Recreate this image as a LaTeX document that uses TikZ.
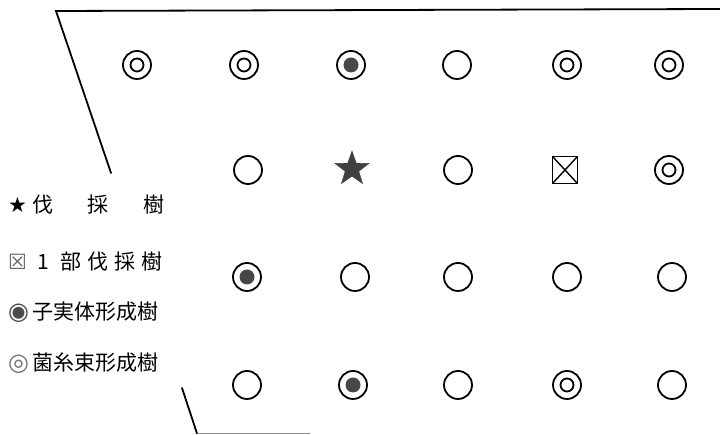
\documentclass[tikz,border=0pt]{standalone}
\usepackage{fontspec}
\setmainfont{Noto Sans CJK JP}
\newfontfamily\symfont{DejaVu Sans}
\usetikzlibrary{shapes.geometric}
\begin{document}
\begin{tikzpicture}[x=1pt,y=1pt,
 frameline/.style={line width=1.8pt,line cap=round},
 plainc/.style={circle,draw,line width=1.8pt,minimum size=28pt,inner sep=0pt},
 mycel/.style={plainc,path picture={\draw[line width=1.8pt](path picture bounding box.center) circle (6.5pt);}},
 fruit/.style={plainc,path picture={\fill[black!72](path picture bounding box.center) circle (7.5pt);}},
 felled/.style={star,star points=5,star point ratio=2.5,fill=black!75,draw=black!75,minimum size=36pt,inner sep=0pt},
 partial/.style={rectangle,draw,line width=1.6pt,minimum width=25pt,minimum height=27pt,inner sep=0pt,
   path picture={\draw[line width=1.4pt](path picture bounding box.north west)--(path picture bounding box.south east)
     (path picture bounding box.north east)--(path picture bounding box.south west);}},
 legend/.style={anchor=west,inner sep=0pt,font=\fontsize{21pt}{21pt}\selectfont}
]
\useasboundingbox (0,0) rectangle (720,435);

% frame lines
\coordinate (tl) at (56,424);
\coordinate (tr) at (720,426);
\coordinate (sl) at (111,262);
\coordinate (bs) at (182,47);
\coordinate (bc) at (197,1.5);
\coordinate (be) at (310,1.5);
\draw[frameline] (sl) -- (tl) -- (tr);
\draw[frameline] (bs) -- (bc);
\draw[line width=1.4pt,black!45] (bc) -- (be);

% row 1
\node[mycel] (a1) at (137,370) {};
\node[mycel] (a2) at (244,370) {};
\node[fruit] (a3) at (351,370) {};
\node[plainc] (a4) at (457,370) {};
\node[mycel] (a5) at (567,370) {};
\node[mycel] (a6) at (669,370) {};
% row 2
\node[plainc] (b2) at (248,265) {};
\node[felled] (b3) at (352,266) {};
\node[plainc] (b4) at (458,265) {};
\node[partial] (b5) at (565,265) {};
\node[mycel] (b6) at (669,265) {};
% row 3
\node[fruit] (c2) at (247,158) {};
\node[plainc] (c3) at (355,158) {};
\node[plainc] (c4) at (458,158) {};
\node[plainc] (c5) at (567,158) {};
\node[plainc] (c6) at (672,158) {};
% row 4
\node[plainc] (d2) at (247,50) {};
\node[fruit] (d3) at (353,50) {};
\node[plainc] (d4) at (458,50) {};
\node[mycel] (d5) at (567,50) {};
\node[plainc] (d6) at (672,50) {};

% legend
\node[legend] (l1) at (8,230) {{\symfont ★}\hspace{5pt}\makebox[132pt][s]{伐\hfill 採\hfill 樹}};
\node[legend] (l2) at (8,173) {{\symfont\color{black!60}☒}\hspace{10pt}1\hspace{12pt}部\hspace{6pt}伐\hspace{6pt}採\hspace{6pt}樹};
\node[legend] (l3) at (8,123) {{\symfont\fontsize{24pt}{24pt}\selectfont\color{black!70}◉}\hspace{3pt}子実体形成樹};
\node[legend] (l4) at (8,72) {{\symfont\fontsize{24pt}{24pt}\selectfont\color{black!55}◎}\hspace{3pt}菌糸束形成樹};
\end{tikzpicture}
\end{document}
